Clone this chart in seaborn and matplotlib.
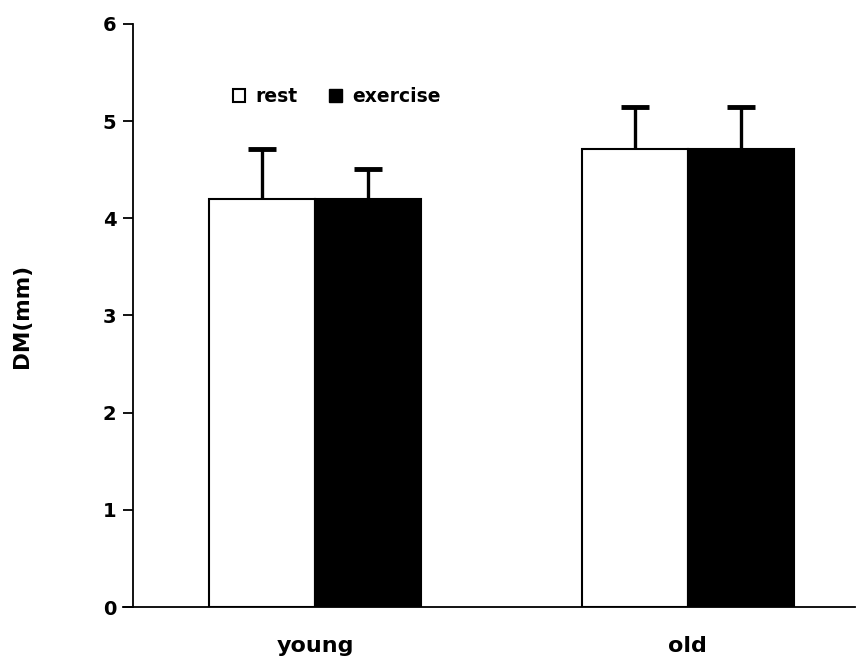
import matplotlib
matplotlib.use("Agg")
import matplotlib.pyplot as plt
import seaborn as sns
import pandas as pd
import numpy as np
from matplotlib.patches import Patch

groups = ["young", "young", "old", "old"]
conditions = ["rest", "exercise", "rest", "exercise"]
dm_values = [4.2, 4.2, 4.71, 4.71]
dm_errors = [0.51, 0.31, 0.43, 0.43]

df = pd.DataFrame({"group": groups, "condition": conditions, "DM": dm_values})

sns.set_theme(style="white")
plt.rcParams["font.family"] = ["DejaVu Sans"]
plt.rcParams["font.weight"] = "bold"
plt.rcParams["text.color"] = "black"
plt.rcParams["axes.labelcolor"] = "black"
plt.rcParams["xtick.color"] = "black"
plt.rcParams["ytick.color"] = "black"

fig = plt.figure(figsize=(8.62, 6.62), dpi=100)
ax = fig.add_axes([0.1427, 0.083, 0.849, 0.881])

sns.barplot(data=df, x="group", y="DM", hue="condition",
            order=["young", "old"], hue_order=["rest", "exercise"],
            palette={"rest": "white", "exercise": "black"},
            width=0.57, edgecolor="black", linewidth=1.5,
            errorbar=None, legend=False, ax=ax)

for s in ["top", "right"]:
    ax.spines[s].set_visible(False)
ax.spines["left"].set_position(("data", -0.488))
ax.spines["left"].set_color("black")
ax.spines["bottom"].set_color("black")
ax.spines["left"].set_linewidth(1.3)
ax.spines["bottom"].set_linewidth(1.3)

# error bars (upward only) placed at bar centres
bars = [p for p in ax.patches if p.get_height() > 0]
bars_sorted = sorted(bars, key=lambda p: p.get_x())
centers = [p.get_x() + p.get_width() / 2 for p in bars_sorted]
heights = [p.get_height() for p in bars_sorted]
eb = ax.errorbar(centers, heights, yerr=[np.zeros(len(dm_errors)), dm_errors],
                 fmt="none", ecolor="black", elinewidth=2.4, capsize=10, capthick=3.5)
eb[1][0].set_visible(False)

ax.set_ylim(0, 6)
ax.set_xlim(-0.515, 1.448)
ax.set_yticks([0, 1, 2, 3, 4, 5, 6])
ax.set_yticklabels(["0", "1", "2", "3", "4", "5", "6"], fontsize=14, fontweight="bold", color="black")
ax.set_xticks([0, 1])
ax.set_xticklabels(["young", "old"], fontsize=16, fontweight="bold", color="black")

ax.tick_params(axis="y", direction="out", length=7, width=1.3, color="black", left=True, pad=5)
ax.tick_params(axis="x", length=0, pad=21)

ax.set_xlabel("")
ax.set_ylabel("DM(mm)", fontsize=15.5, fontweight="bold", color="black")
ax.yaxis.set_label_coords(-0.124, 0.5)

handles = [Patch(facecolor="white", edgecolor="black", linewidth=1.5, label="rest"),
           Patch(facecolor="black", edgecolor="black", label="exercise")]
leg = ax.legend(handles=handles, ncol=2, frameon=False, loc="center left",
                bbox_to_anchor=(0.127, 0.876), handlelength=0.65, handleheight=0.7,
                handletextpad=0.55, columnspacing=1.7, prop={"weight": "bold", "size": 13.5})
for t in leg.get_texts():
    t.set_color("black")

fig.savefig("out.png", dpi=100)
